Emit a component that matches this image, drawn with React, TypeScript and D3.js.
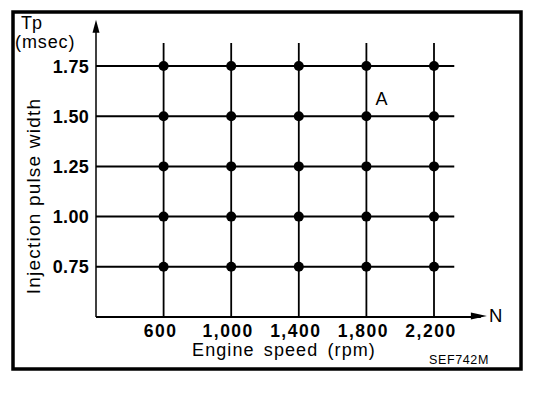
import React from "react";
import * as d3 from "d3";

const engineSpeeds = [600, 1000, 1400, 1800, 2200];
const speedLabels = ["600", "1,000", "1,400", "1,800", "2,200"];
const pulseWidths = [0.75, 1.0, 1.25, 1.5, 1.75];
const pulseLabels = ["0.75", "1.00", "1.25", "1.50", "1.75"];
const pointA = { speed: 1800, pulse: 1.5, label: "A" };

const W = 560;
const H = 394;
const FONT = "'Liberation Sans', Arial, Helvetica, sans-serif";

export default function App() {
  const x = d3.scaleLinear().domain([200, 2200]).range([96, 434]);
  const y = d3.scaleLinear().domain([0.5, 1.75]).range([317, 66]);

  const gridTop = y(1.865);
  const gridRight = x(2320);
  const yAxisTip = y(1.98);
  const xAxisTip = x(2513);
  const x0 = x(200);
  const y0 = y(0.5);

  const points = engineSpeeds.flatMap((s) => pulseWidths.map((p) => ({ s, p })));

  return (
    <svg
      width={W}
      height={H}
      viewBox={`0 0 ${W} ${H}`}
      style={{ position: "absolute", left: 0, top: 0, background: "#fff" }}
      fontFamily={FONT}
    >
      <rect x={0} y={0} width={W} height={H} fill="#fff" />
      {/* outer frame */}
      <rect x={13} y={12} width={508} height={357} fill="none" stroke="#000" strokeWidth={3.5} />

      {/* horizontal grid lines */}
      {pulseWidths.map((p) => (
        <line key={"h" + p} x1={x0} x2={gridRight} y1={y(p)} y2={y(p)} stroke="#000" strokeWidth={2} />
      ))}
      {/* vertical grid lines */}
      {engineSpeeds.map((s) => (
        <line key={"v" + s} x1={x(s)} x2={x(s)} y1={gridTop} y2={y0} stroke="#000" strokeWidth={1.8} />
      ))}

      {/* axes */}
      <line x1={x0} x2={x0} y1={y0} y2={yAxisTip + 6} stroke="#000" strokeWidth={1.5} />
      <path d={`M${x0},${yAxisTip} L${x0 - 3.5},${yAxisTip + 13} L${x0 + 3.5},${yAxisTip + 13} Z`} fill="#000" />
      <line x1={x0} x2={xAxisTip - 6} y1={y0} y2={y0} stroke="#000" strokeWidth={2} />
      <path d={`M${xAxisTip},${y0 - 1} L${xAxisTip - 16},${y0 - 4.5} L${xAxisTip - 16},${y0 + 2.5} Z`} fill="#000" />

      {/* dots */}
      {points.map((d) => (
        <circle key={d.s + "-" + d.p} cx={x(d.s)} cy={y(d.p)} r={5} fill="#000" />
      ))}

      {/* y tick labels */}
      {pulseWidths.map((p, i) => (
        <text
          key={"yl" + p}
          x={x0 - 7}
          y={y(p) + 6.5}
          textAnchor="end"
          fontSize={18}
          fontWeight="bold"
          letterSpacing={0.3}
        >
          {pulseLabels[i]}
        </text>
      ))}

      {/* x tick labels */}
      {engineSpeeds.map((s, i) => (
        <text
          key={"xl" + s}
          x={x(s) - 3}
          y={y0 + 19.5}
          textAnchor="middle"
          fontSize={17.5}
          fontWeight="bold"
          letterSpacing={1.5}
        >
          {speedLabels[i]}
        </text>
      ))}

      {/* axis titles */}
      <text x={21} y={29} fontSize={18}>Tp</text>
      <text x={15} y={48} fontSize={18} letterSpacing={0.9}>(msec)</text>
      <text x={xAxisTip + 2} y={y0 + 5} fontSize={18.5}>N</text>
      <text
        transform={`translate(40, ${196}) rotate(-90)`}
        textAnchor="middle"
        fontSize={19}
        letterSpacing={1.2}
      >
        Injection pulse width
      </text>
      <text x={284} y={356} textAnchor="middle" fontSize={18} letterSpacing={1.1} wordSpacing={3}>
        Engine speed (rpm)
      </text>
      <text x={459} y={364} textAnchor="middle" fontSize={12.5} letterSpacing={0.6}>
        SEF742M
      </text>

      {/* point label */}
      <text x={x(pointA.speed) + 9} y={y(pointA.pulse) - 11} fontSize={18}>
        {pointA.label}
      </text>
    </svg>
  );
}
